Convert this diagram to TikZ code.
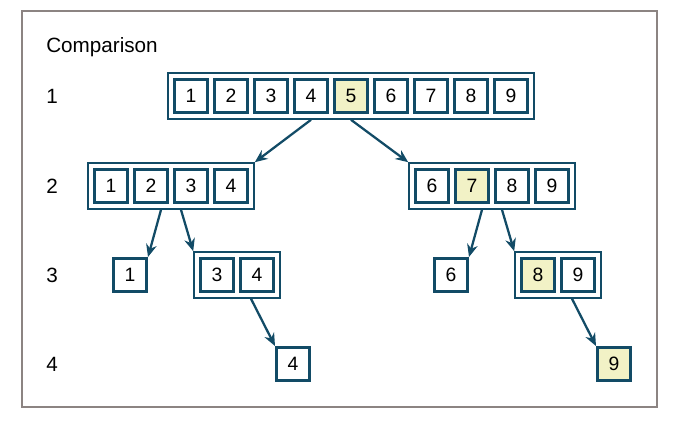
\documentclass[tikz,border=0pt]{standalone}
\usepackage{fontspec}
\setmainfont{Liberation Sans}
\usetikzlibrary{positioning,fit,arrows.meta}

\definecolor{cellblue}{HTML}{124B66}
\definecolor{pick}{HTML}{F2F2C6}
\definecolor{framegray}{HTML}{8C8482}

\begin{document}
\begin{tikzpicture}[
    x=0.75pt,
    y=-0.75pt,
    >={Stealth[length=9.5pt,width=8pt]},
    node distance=3pt,
    num/.style={
        rectangle,
        draw=cellblue,
        line width=1.9pt,
        minimum size=25.1pt,
        inner sep=0pt,
        font=\fontsize{14.5}{16}\selectfont,},
    pivot/.style={
        num,
        fill=pick,},
    grp/.style={
        rectangle,
        draw=cellblue,
        line width=1.7pt,
        inner sep=3.5pt,},
    lbl/.style={
        anchor=west,
        inner sep=0pt,
        font=\fontsize{15.5}{18}\selectfont,},
    pil/.style={
        ->,
        draw=cellblue,
        line width=1.7pt,}
]

\useasboundingbox (0,0) rectangle (682,428);
\draw[framegray,line width=1.8pt] (22,11) rectangle (657,407);

% row labels
\node[lbl,anchor=base west] (title) at (46,53) {Comparison};
\node[lbl] (lev1) at (46,96) {1};
\node[lbl] (lev2) at (46,186) {2};
\node[lbl] (lev3) at (46,275) {3};
\node[lbl] (lev4) at (46,364) {4};

% level 1
\node[num] (a1) at (191,96) {1};
\node[num,right=of a1] (a2) {2};
\node[num,right=of a2] (a3) {3};
\node[num,right=of a3] (a4) {4};
\node[pivot,right=of a4] (a5) {5};
\node[num,right=of a5] (a6) {6};
\node[num,right=of a6] (a7) {7};
\node[num,right=of a7] (a8) {8};
\node[num,right=of a8] (a9) {9};
\node[grp,fit=(a1)(a9)] (top) {};

% level 2
\node[num] (b1) at (111,186) {1};
\node[num,right=of b1] (b2) {2};
\node[num,right=of b2] (b3) {3};
\node[num,right=of b3] (b4) {4};
\node[grp,fit=(b1)(b4)] (low) {};

\node[num] (c6) at (432,186) {6};
\node[pivot,right=of c6] (c7) {7};
\node[num,right=of c7] (c8) {8};
\node[num,right=of c8] (c9) {9};
\node[grp,fit=(c6)(c9)] (high) {};

% level 3
\node[num] (d1) at (130,275) {1};
\node[num] (d3) at (217,275) {3};
\node[num,right=of d3] (d4) {4};
\node[grp,fit=(d3)(d4)] (lowrest) {};

\node[num] (e6) at (451,275) {6};
\node[pivot] (e8) at (538,275) {8};
\node[num,right=of e8] (e9) {9};
\node[grp,fit=(e8)(e9)] (highrest) {};

% level 4
\node[num] (f4) at (293,364) {4};
\node[pivot] (f9) at (614,364) {9};

\draw[pil] (a4 |- top.south) -- (low.north east);
\draw[pil] (top.south) -- (high.north west);
\draw[pil] ([xshift=-7.5pt]low.south) -- (d1.north east);
\draw[pil] ([xshift=7.5pt]low.south) -- (lowrest.north west);
\draw[pil] ([xshift=-7.5pt]high.south) -- (e6.north east);
\draw[pil] ([xshift=7.5pt]high.south) -- (highrest.north west);
\draw[pil] ([xshift=10.5pt]lowrest.south) -- (f4.north west);
\draw[pil] ([xshift=10.5pt]highrest.south) -- (f9.north west);

\end{tikzpicture}
\end{document}
